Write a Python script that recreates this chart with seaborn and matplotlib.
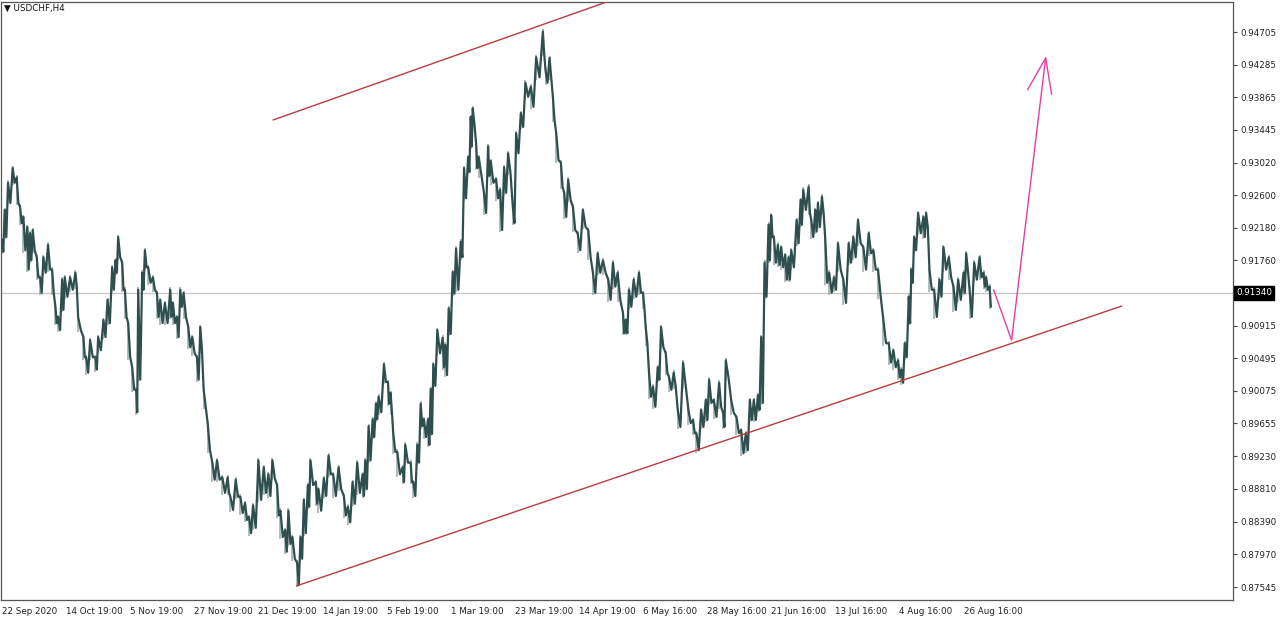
import numpy as np
import matplotlib
matplotlib.use("Agg")
import matplotlib.pyplot as plt
import matplotlib.transforms as mtransforms
import seaborn as sns

sns.set_style("white")
plt.rcParams['font.family'] = ['DejaVu Sans']

# ---- data (H4 bar index, sampled high / low) ----
bars = [0, 4, 9, 16, 22, 27, 32, 38, 42, 46, 52, 57, 62, 69, 75, 80, 84, 90, 94, 102,
        110, 114, 122, 126, 132, 140, 144, 152, 158, 165, 170, 174, 180, 184, 189, 195, 201, 204, 210, 214,
        219, 226, 232, 237, 244, 252, 256, 262, 267, 272, 279, 285, 292, 297, 302, 308, 315, 322, 330, 338,
        342, 350, 357, 364, 370, 376, 384, 392, 399, 405, 412, 417, 424, 429, 435, 442, 447, 452, 458, 462,
        470, 474, 482, 489, 496, 504, 512, 518, 525, 532, 540, 544, 549, 555, 560, 564, 572, 578, 582, 586,
        592, 600, 604, 612, 616, 622, 627, 632, 638, 642, 646, 652, 660, 664, 669, 675, 680, 687, 692, 698,
        702, 705, 710, 714, 722, 728, 732, 740, 746, 752, 758, 765, 770, 777, 784, 792, 800, 810, 814, 820,
        825, 830, 837, 842, 848, 855, 862, 870, 878, 885, 892, 900, 908, 915, 922, 930, 934, 939, 946, 954,
        960, 964, 969, 975, 982, 987, 994, 999, 1006, 1012, 1020, 1028, 1035, 1040, 1047, 1054, 1059, 1066, 1074, 1080,
        1084, 1092, 1100, 1107, 1114, 1120, 1126, 1132, 1137, 1142, 1148, 1152, 1156, 1162, 1167, 1173, 1178, 1182, 1190, 1196,
        1200, 1208, 1212, 1218, 1222, 1228, 1233, 1239, 1246, 1252, 1260, 1268, 1275, 1282, 1290, 1298, 1305, 1312, 1320, 1328,
        1335, 1342, 1347, 1352, 1358, 1362, 1366, 1372, 1380, 1384, 1389, 1396, 1404, 1410, 1418, 1425, 1432, 1440, 1444, 1449,
        1456, 1464, 1470, 1474, 1479]

highs = [0.9202, 0.9241, 0.9276, 0.9295, 0.9283, 0.9245, 0.9232, 0.9219, 0.9211, 0.9215,
         0.9180, 0.9154, 0.9180, 0.9196, 0.9164, 0.9116, 0.9103, 0.9151, 0.9154, 0.9154,
         0.9160, 0.9103, 0.9077, 0.9051, 0.9073, 0.9051, 0.9077, 0.9099, 0.9125, 0.9167,
         0.9176, 0.9206, 0.9173, 0.9138, 0.9095, 0.9038, 0.9009, 0.9138, 0.9160, 0.9189,
         0.9167, 0.9154, 0.9134, 0.9125, 0.9121, 0.9138, 0.9121, 0.9103, 0.9138, 0.9134,
         0.9090, 0.9077, 0.9051, 0.9090, 0.9009, 0.8966, 0.8915, 0.8918, 0.8896, 0.8896,
         0.8871, 0.8893, 0.8871, 0.8863, 0.8845, 0.8860, 0.8918, 0.8909, 0.8900, 0.8918,
         0.8886, 0.8853, 0.8828, 0.8853, 0.8819, 0.8786, 0.8819, 0.8867, 0.8886, 0.8918,
         0.8890, 0.8881, 0.8895, 0.8924, 0.8900, 0.8909, 0.8872, 0.8858, 0.8890, 0.8915,
         0.8900, 0.8918, 0.8962, 0.8971, 0.8991, 0.9000, 0.9042, 0.9019, 0.9005, 0.8952,
         0.8929, 0.8909, 0.8938, 0.8915, 0.8890, 0.8938, 0.8991, 0.8971, 0.8971, 0.9010,
         0.9042, 0.9086, 0.9076, 0.9067, 0.9114, 0.9161, 0.9191, 0.9200, 0.9295, 0.9309,
         0.9361, 0.9372, 0.9327, 0.9309, 0.9262, 0.9323, 0.9304, 0.9281, 0.9267, 0.9296,
         0.9314, 0.9245, 0.9340, 0.9366, 0.9405, 0.9400, 0.9438, 0.9471, 0.9421, 0.9437,
         0.9387, 0.9340, 0.9302, 0.9263, 0.9280, 0.9245, 0.9211, 0.9241, 0.9215, 0.9160,
         0.9185, 0.9176, 0.9151, 0.9173, 0.9160, 0.9108, 0.9099, 0.9138, 0.9151, 0.9160,
         0.9134, 0.9090, 0.9031, 0.9013, 0.9038, 0.9090, 0.9056, 0.9025, 0.9031, 0.8983,
         0.9044, 0.8983, 0.8970, 0.8953, 0.8983, 0.8996, 0.9022, 0.8996, 0.9018, 0.8979,
         0.9047, 0.8996, 0.8974, 0.8957, 0.8953, 0.8996, 0.8996, 0.9002, 0.9077, 0.9173,
         0.9222, 0.9234, 0.9206, 0.9196, 0.9193, 0.9183, 0.9180, 0.9189, 0.9228, 0.9254,
         0.9267, 0.9271, 0.9228, 0.9241, 0.9250, 0.9258, 0.9202, 0.9160, 0.9154, 0.9198,
         0.9151, 0.9198, 0.9206, 0.9228, 0.9193, 0.9211, 0.9189, 0.9164, 0.9099, 0.9069,
         0.9060, 0.9047, 0.9035, 0.9069, 0.9129, 0.9164, 0.9206, 0.9237, 0.9232, 0.9237,
         0.9164, 0.9138, 0.9151, 0.9193, 0.9180, 0.9142, 0.9151, 0.9160, 0.9185, 0.9138,
         0.9173, 0.9180, 0.9160, 0.9154, 0.9142]

lows = [0.9187, 0.9206, 0.9250, 0.9276, 0.9250, 0.9224, 0.9189, 0.9164, 0.9176, 0.9189,
        0.9154, 0.9134, 0.9160, 0.9164, 0.9134, 0.9095, 0.9086, 0.9112, 0.9129, 0.9138,
        0.9142, 0.9086, 0.9051, 0.9031, 0.9051, 0.9035, 0.9060, 0.9077, 0.9095, 0.9138,
        0.9160, 0.9180, 0.9138, 0.9103, 0.9051, 0.9009, 0.8980, 0.9022, 0.9138, 0.9167,
        0.9147, 0.9138, 0.9103, 0.9095, 0.9095, 0.9103, 0.9095, 0.9077, 0.9116, 0.9103,
        0.9064, 0.9056, 0.9022, 0.9060, 0.8987, 0.8931, 0.8893, 0.8893, 0.8876, 0.8876,
        0.8854, 0.8871, 0.8850, 0.8841, 0.8824, 0.8831, 0.8867, 0.8876, 0.8872, 0.8895,
        0.8847, 0.8819, 0.8800, 0.8810, 0.8791, 0.8757, 0.8791, 0.8824, 0.8858, 0.8886,
        0.8862, 0.8853, 0.8872, 0.8900, 0.8872, 0.8881, 0.8847, 0.8838, 0.8862, 0.8876,
        0.8872, 0.8881, 0.8918, 0.8948, 0.8971, 0.8980, 0.9019, 0.8991, 0.8980, 0.8929,
        0.8900, 0.8890, 0.8915, 0.8890, 0.8872, 0.8915, 0.8962, 0.8948, 0.8938, 0.8952,
        0.9014, 0.9056, 0.9038, 0.9028, 0.9081, 0.9133, 0.9138, 0.9180, 0.9256, 0.9290,
        0.9323, 0.9352, 0.9295, 0.9285, 0.9237, 0.9285, 0.9276, 0.9256, 0.9215, 0.9263,
        0.9289, 0.9224, 0.9314, 0.9348, 0.9387, 0.9374, 0.9412, 0.9443, 0.9405, 0.9412,
        0.9357, 0.9305, 0.9271, 0.9232, 0.9254, 0.9215, 0.9189, 0.9219, 0.9180, 0.9134,
        0.9160, 0.9160, 0.9125, 0.9142, 0.9125, 0.9082, 0.9082, 0.9116, 0.9129, 0.9134,
        0.9116, 0.9069, 0.9000, 0.8987, 0.9022, 0.9064, 0.9031, 0.9009, 0.9013, 0.8961,
        0.9013, 0.8966, 0.8953, 0.8931, 0.8961, 0.8970, 0.8992, 0.8974, 0.8987, 0.8961,
        0.9025, 0.8979, 0.8953, 0.8927, 0.8931, 0.8970, 0.8970, 0.8983, 0.8992, 0.9129,
        0.9176, 0.9206, 0.9173, 0.9170, 0.9167, 0.9151, 0.9151, 0.9167, 0.9198, 0.9222,
        0.9241, 0.9237, 0.9206, 0.9213, 0.9219, 0.9237, 0.9147, 0.9134, 0.9138, 0.9164,
        0.9121, 0.9173, 0.9180, 0.9198, 0.9164, 0.9185, 0.9164, 0.9129, 0.9069, 0.9044,
        0.9038, 0.9025, 0.9018, 0.9051, 0.9095, 0.9147, 0.9189, 0.9211, 0.9206, 0.9219,
        0.9138, 0.9103, 0.9129, 0.9164, 0.9154, 0.9112, 0.9125, 0.9134, 0.9164, 0.9103,
        0.9151, 0.9154, 0.9142, 0.9138, 0.9116]

last_price = 0.91340
price_ticks = [0.87545, 0.87970, 0.88390, 0.88810, 0.89230, 0.89655, 0.90075, 0.90495,
               0.90915, 0.91340, 0.91760, 0.92180, 0.92600, 0.93020, 0.93445, 0.93865,
               0.94285, 0.94705]
date_labels = ["22 Sep 2020", "14 Oct 19:00", "5 Nov 19:00", "27 Nov 19:00", "21 Dec 19:00",
               "14 Jan 19:00", "5 Feb 19:00", "1 Mar 19:00", "23 Mar 19:00", "14 Apr 19:00",
               "6 May 16:00", "28 May 16:00", "21 Jun 16:00", "13 Jul 16:00", "4 Aug 16:00",
               "26 Aug 16:00"]
bars_per_label = 96

# drawn objects (bar index, price)
upper_line_x = [406, 908]
upper_line_y = [0.9357, 0.9510]
lower_line_x = [441, 1677]
lower_line_y = [0.8756, 0.9117]
arrow_x = [1485, 1512, 1563]
arrow_y = [0.9138, 0.9073, 0.9437]
arrow_head_x = [1536, 1563, 1572]
arrow_head_y = [0.9396, 0.9437, 0.9390]

# ---- figure ----
W, H = 1280, 617
fig = plt.figure(figsize=(W / 100, H / 100), dpi=100)
ax = fig.add_axes([1 / W, 17 / H, 1232 / W, 598 / H])
ax.set_facecolor("white")

bars_a = np.array(bars, dtype=float)
hi = np.array(highs)
lo = np.array(lows)
nxt = np.append(bars_a[1:], bars_a[-1] + 4)
zx = np.column_stack([bars_a, (bars_a + nxt) / 2]).ravel()
zy = np.column_stack([hi, lo]).ravel()

ax.axhline(last_price, color="#c8c8c8", lw=1.0, zorder=1)
ax.vlines(bars_a, lo - 0.0003, hi + 0.0003, color="#9fb0ae", lw=1.2, zorder=2)
sns.lineplot(x=zx, y=zy, sort=False, estimator=None, color="#2f4f4f", lw=1.6, ax=ax, zorder=3)

sns.lineplot(x=upper_line_x, y=upper_line_y, sort=False, estimator=None, color="#b83c3c", lw=1.0, ax=ax, zorder=4)
sns.lineplot(x=lower_line_x, y=lower_line_y, sort=False, estimator=None, color="#b83c3c", lw=1.0, ax=ax, zorder=4)
ax.plot(arrow_x, arrow_y, color="#e040a0", lw=1.0, zorder=5)
ax.plot(arrow_head_x, arrow_head_y, color="#e040a0", lw=1.0, zorder=5)

ax.set_xlim(-1.5, 1843.6)
ax.set_ylim(0.87378, 0.95092)

ax.yaxis.tick_right()
ax.set_yticks(price_ticks)
# the 0.91340 tick label is shown by the black current-price box instead
ax.set_yticklabels(["" if abs(v - last_price) < 1e-9 else f"{v:.5f}" for v in price_ticks],
                   fontsize=6.3, color="#222222")
ax.set_xticks([i * bars_per_label for i in range(len(date_labels))])
ax.set_xticklabels(date_labels, fontsize=6.3, ha="left", color="#222222")
ax.tick_params(axis="both", length=3, width=0.8, color="#444444", direction="out", pad=2)
for s in ax.spines.values():
    s.set_color("#555555")
    s.set_linewidth(0.9)
ax.set_xlabel("")
ax.set_ylabel("")

trans = mtransforms.blended_transform_factory(ax.transAxes, ax.transData)
ax.text(1.0025, last_price, "0.91340", transform=trans, fontsize=6.3, color="white",
        va="center", ha="left",
        bbox=dict(boxstyle="square,pad=0.25", fc="black", ec="black"))

fig.text(4 / W, 1 - 8 / H, "\u25bc USDCHF,H4", fontsize=6.3, color="#111111", va="center", ha="left")

fig.savefig("out.png", dpi=100)
